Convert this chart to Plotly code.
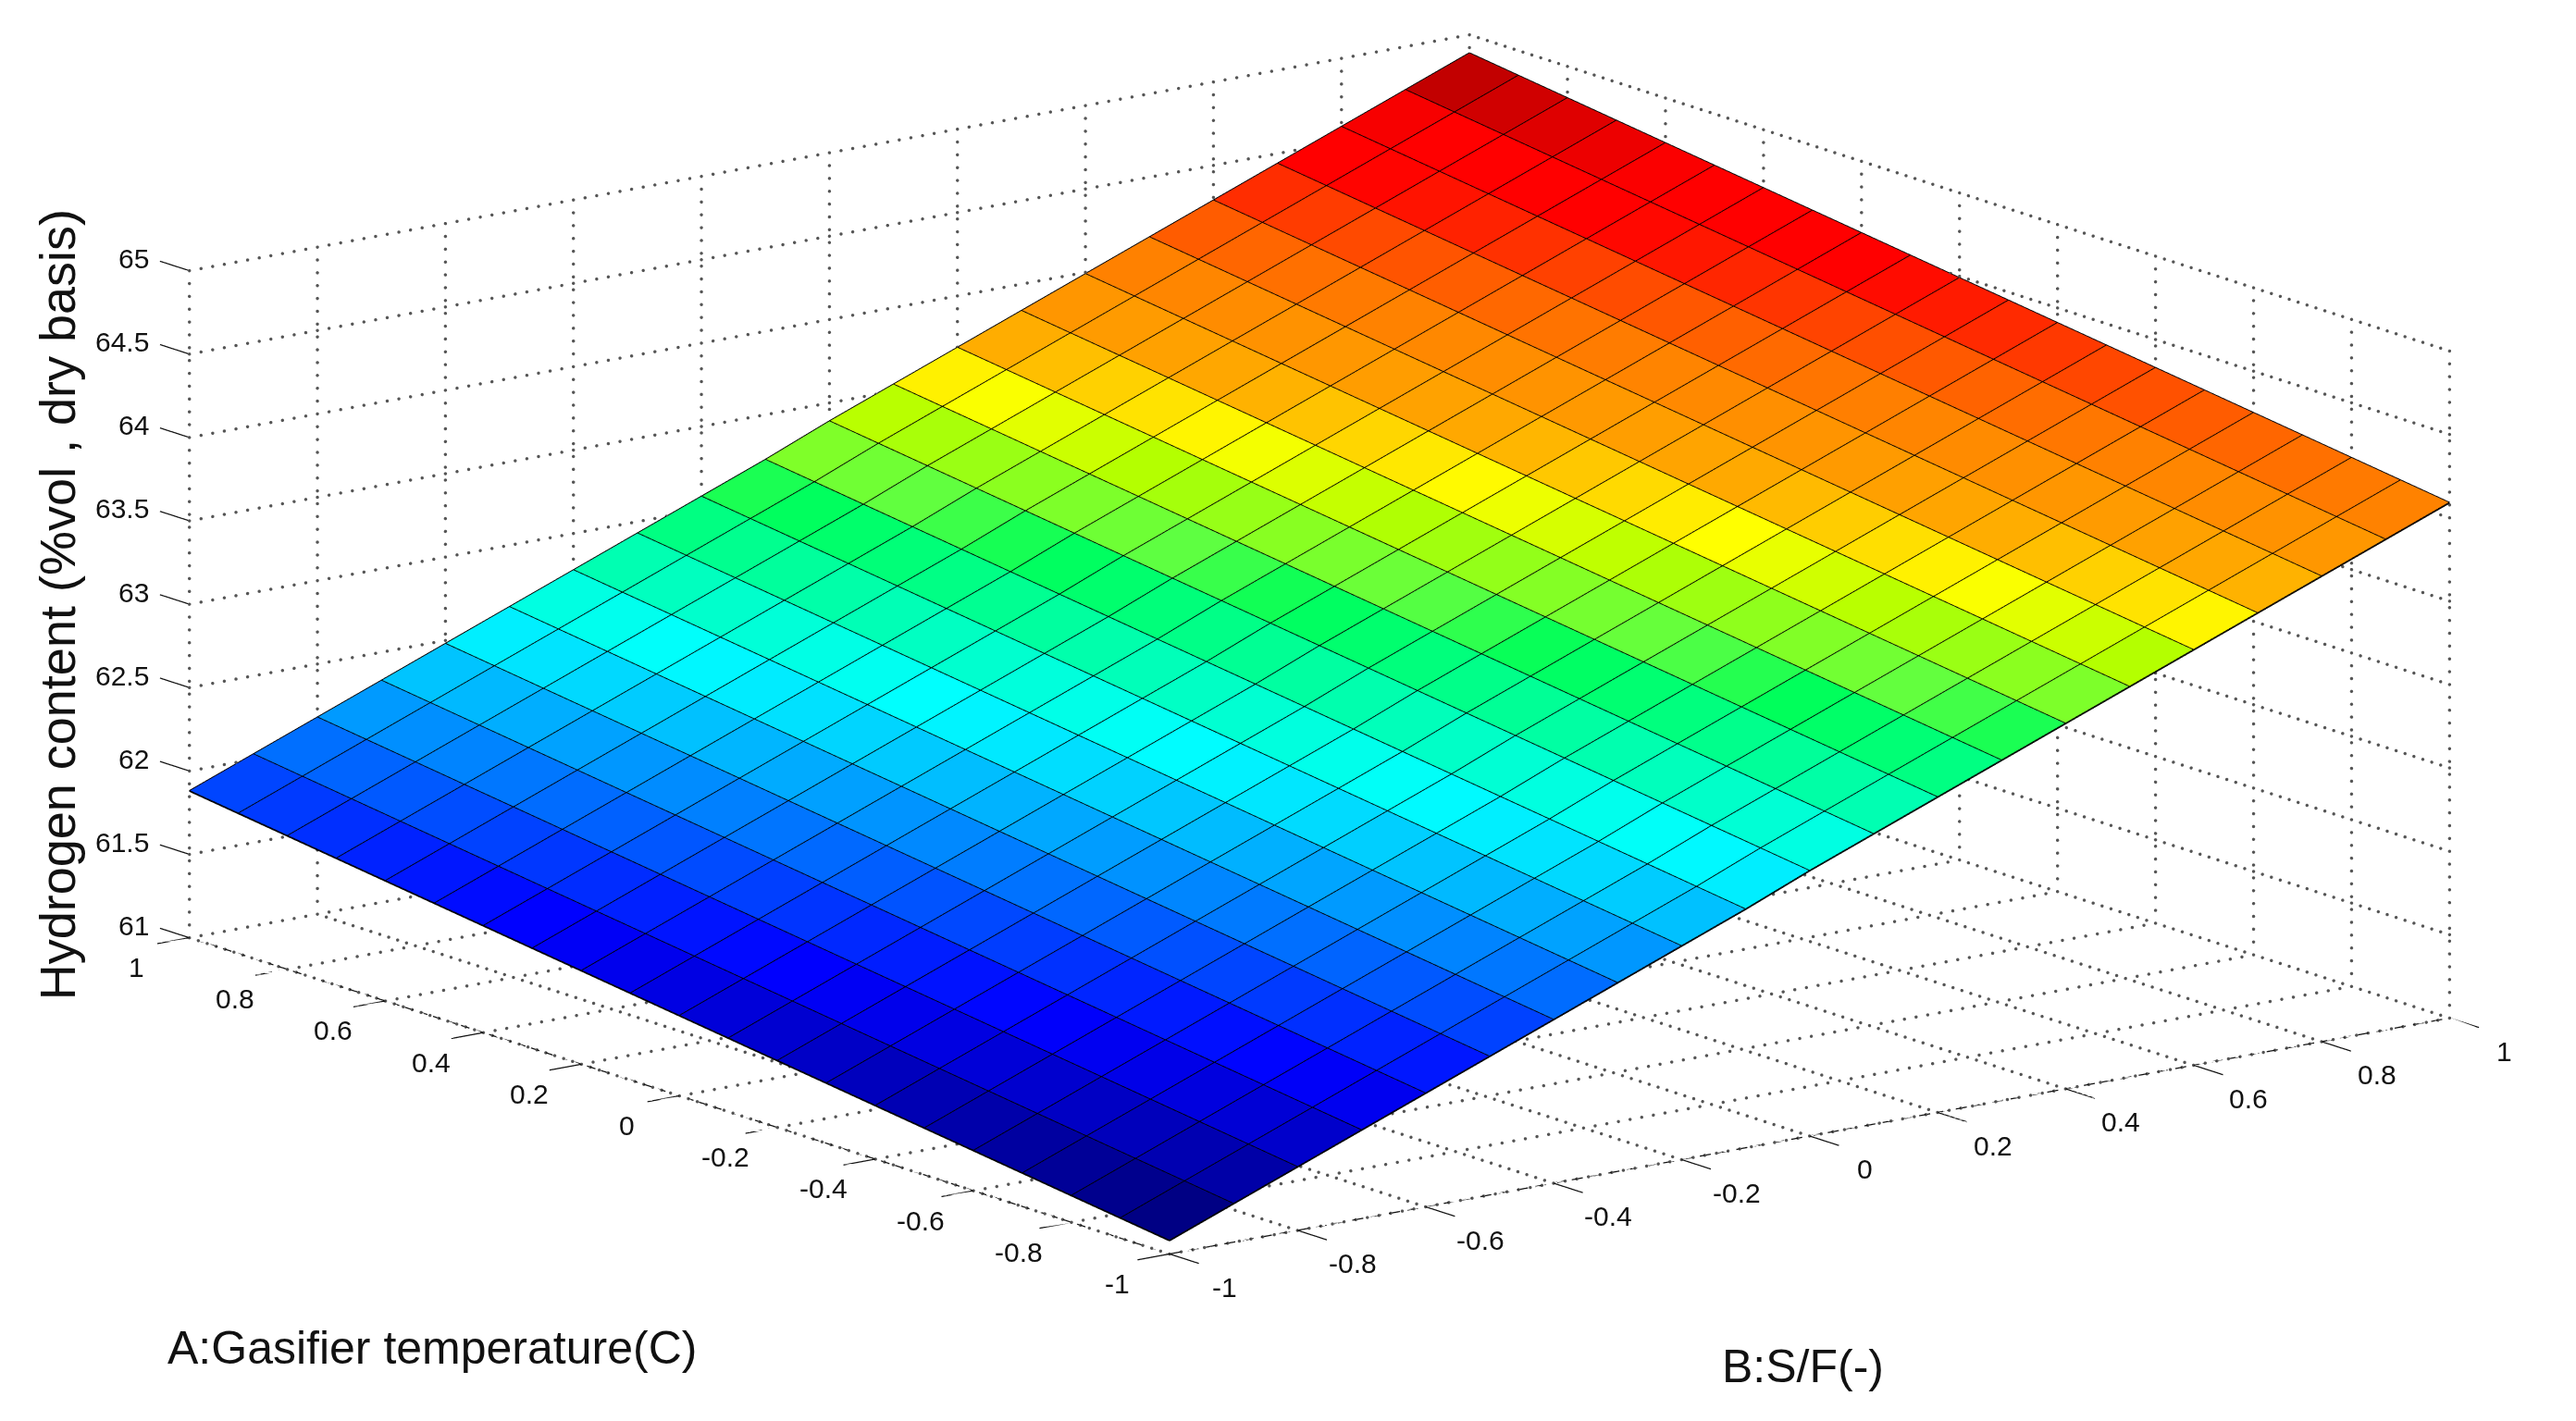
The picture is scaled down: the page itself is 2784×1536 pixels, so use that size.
import plotly.graph_objects as go

# MATLAB surf re-creation: A = gasifier temperature, B = S/F
a_values = [-1.0, -0.9, -0.8, -0.7, -0.6, -0.5, -0.4, -0.3, -0.2, -0.1, 0.0,
            0.1, 0.2, 0.3, 0.4, 0.5, 0.6, 0.7, 0.8, 0.9, 1.0]
b_values = [-1.0, -0.9, -0.8, -0.7, -0.6, -0.5, -0.4, -0.3, -0.2, -0.1, 0.0,
            0.1, 0.2, 0.3, 0.4, 0.5, 0.6, 0.7, 0.8, 0.9, 1.0]

# hydrogen content, one row per A value, one column per B value
hydrogen = [
    [61.08, 61.23, 61.38, 61.53, 61.68, 61.83, 61.98, 62.13, 62.28, 62.43, 62.59, 62.74, 62.89, 63.04, 63.19, 63.34, 63.49, 63.64, 63.79, 63.94, 64.09],
    [61.12, 61.27, 61.42, 61.57, 61.72, 61.87, 62.02, 62.17, 62.32, 62.47, 62.63, 62.78, 62.93, 63.08, 63.23, 63.38, 63.53, 63.68, 63.83, 63.98, 64.13],
    [61.16, 61.31, 61.46, 61.61, 61.76, 61.91, 62.06, 62.21, 62.36, 62.51, 62.67, 62.82, 62.97, 63.12, 63.27, 63.42, 63.57, 63.72, 63.87, 64.02, 64.17],
    [61.20, 61.35, 61.50, 61.65, 61.80, 61.95, 62.10, 62.25, 62.40, 62.55, 62.71, 62.86, 63.01, 63.16, 63.31, 63.46, 63.61, 63.76, 63.91, 64.06, 64.21],
    [61.24, 61.39, 61.54, 61.69, 61.84, 61.99, 62.14, 62.29, 62.44, 62.59, 62.75, 62.90, 63.05, 63.20, 63.35, 63.50, 63.65, 63.80, 63.95, 64.10, 64.25],
    [61.28, 61.43, 61.58, 61.73, 61.88, 62.03, 62.18, 62.33, 62.48, 62.63, 62.79, 62.94, 63.09, 63.24, 63.39, 63.54, 63.69, 63.84, 63.99, 64.14, 64.29],
    [61.32, 61.47, 61.62, 61.77, 61.92, 62.07, 62.22, 62.37, 62.52, 62.67, 62.83, 62.98, 63.13, 63.28, 63.43, 63.58, 63.73, 63.88, 64.03, 64.18, 64.33],
    [61.36, 61.51, 61.66, 61.81, 61.96, 62.11, 62.26, 62.41, 62.56, 62.71, 62.87, 63.02, 63.17, 63.32, 63.47, 63.62, 63.77, 63.92, 64.07, 64.22, 64.37],
    [61.40, 61.55, 61.70, 61.85, 62.00, 62.15, 62.30, 62.45, 62.60, 62.75, 62.91, 63.06, 63.21, 63.36, 63.51, 63.66, 63.81, 63.96, 64.11, 64.26, 64.41],
    [61.44, 61.59, 61.74, 61.89, 62.04, 62.19, 62.34, 62.49, 62.64, 62.79, 62.95, 63.10, 63.25, 63.40, 63.55, 63.70, 63.85, 64.00, 64.15, 64.30, 64.45],
    [61.48, 61.63, 61.78, 61.93, 62.08, 62.23, 62.38, 62.53, 62.68, 62.83, 62.99, 63.14, 63.29, 63.44, 63.59, 63.74, 63.89, 64.04, 64.19, 64.34, 64.49],
    [61.52, 61.67, 61.82, 61.97, 62.12, 62.27, 62.42, 62.57, 62.72, 62.87, 63.03, 63.18, 63.33, 63.48, 63.63, 63.78, 63.93, 64.08, 64.23, 64.38, 64.53],
    [61.56, 61.71, 61.86, 62.01, 62.16, 62.31, 62.46, 62.61, 62.76, 62.91, 63.07, 63.22, 63.37, 63.52, 63.67, 63.82, 63.97, 64.12, 64.27, 64.42, 64.57],
    [61.60, 61.75, 61.90, 62.05, 62.20, 62.35, 62.50, 62.65, 62.80, 62.95, 63.11, 63.26, 63.41, 63.56, 63.71, 63.86, 64.01, 64.16, 64.31, 64.46, 64.61],
    [61.64, 61.79, 61.94, 62.09, 62.24, 62.39, 62.54, 62.69, 62.84, 62.99, 63.15, 63.30, 63.45, 63.60, 63.75, 63.90, 64.05, 64.20, 64.35, 64.50, 64.65],
    [61.68, 61.83, 61.98, 62.13, 62.28, 62.43, 62.58, 62.73, 62.88, 63.03, 63.19, 63.34, 63.49, 63.64, 63.79, 63.94, 64.09, 64.24, 64.39, 64.54, 64.69],
    [61.72, 61.87, 62.02, 62.17, 62.32, 62.47, 62.62, 62.77, 62.92, 63.07, 63.23, 63.38, 63.53, 63.68, 63.83, 63.98, 64.13, 64.28, 64.43, 64.58, 64.73],
    [61.76, 61.91, 62.06, 62.21, 62.36, 62.51, 62.66, 62.81, 62.96, 63.11, 63.27, 63.42, 63.57, 63.72, 63.87, 64.02, 64.17, 64.32, 64.47, 64.62, 64.77],
    [61.80, 61.95, 62.10, 62.25, 62.40, 62.55, 62.70, 62.85, 63.00, 63.15, 63.31, 63.46, 63.61, 63.76, 63.91, 64.06, 64.21, 64.36, 64.51, 64.66, 64.81],
    [61.84, 61.99, 62.14, 62.29, 62.44, 62.59, 62.74, 62.89, 63.04, 63.19, 63.35, 63.50, 63.65, 63.80, 63.95, 64.10, 64.25, 64.40, 64.55, 64.70, 64.85],
    [61.88, 62.03, 62.18, 62.33, 62.48, 62.63, 62.78, 62.93, 63.08, 63.23, 63.39, 63.54, 63.69, 63.84, 63.99, 64.14, 64.29, 64.44, 64.59, 64.74, 64.89],
]

ab_ticks = [-1, -0.8, -0.6, -0.4, -0.2, 0, 0.2, 0.4, 0.6, 0.8, 1]
ab_labels = ["-1", "-0.8", "-0.6", "-0.4", "-0.2", "0", "0.2", "0.4", "0.6", "0.8", "1"]
z_ticks = [61, 61.5, 62, 62.5, 63, 63.5, 64, 64.5, 65]
z_labels = ["61", "61.5", "62", "62.5", "63", "63.5", "64", "64.5", "65"]

# jet as the picture shows it: saturated green in the middle, red runs long at the top
jet = [
    [0.0, "#000084"],
    [0.14, "#0000ff"],
    [0.39, "#00ffff"],
    [0.47, "#00ffa0"],
    [0.53, "#00ff5a"],
    [0.555, "#60ff40"],
    [0.62, "#b4ff00"],
    [0.655, "#ffff00"],
    [0.705, "#ffaa00"],
    [0.79, "#ff8000"],
    [0.85, "#ff4600"],
    [0.90, "#ff0000"],
    [0.945, "#ff0000"],
    [1.0, "#b80000"],
]

# flat coloured cells: two triangles per grid cell
n_a = len(a_values)
n_b = len(b_values)
xs, ys, zs = [], [], []
for r in range(n_a):
    for c in range(n_b):
        xs.append(b_values[c])
        ys.append(a_values[r])
        zs.append(hydrogen[r][c])

tri_i, tri_j, tri_k, cell_val = [], [], [], []
for r in range(n_a - 1):
    for c in range(n_b - 1):
        p = r * n_b + c
        mean = (hydrogen[r][c] + hydrogen[r][c + 1] + hydrogen[r + 1][c] + hydrogen[r + 1][c + 1]) / 4
        tri_i += [p, p]
        tri_j += [p + 1, p + n_b + 1]
        tri_k += [p + n_b + 1, p + n_b]
        cell_val += [mean, mean]

cells = go.Mesh3d(
    x=xs, y=ys, z=zs, i=tri_i, j=tri_j, k=tri_k,
    intensity=cell_val, intensitymode="cell",
    colorscale=jet, cmin=61.17, cmax=64.83, showscale=False,
    flatshading=True, hoverinfo="skip",
    lighting=dict(ambient=1, diffuse=0, specular=0, roughness=1, fresnel=0),
)

# black mesh lines on the surface
line_x, line_y, line_z = [], [], []
for r in range(n_a):
    line_x += b_values + [None]
    line_y += [a_values[r]] * n_b + [None]
    line_z += hydrogen[r] + [None]
for c in range(n_b):
    line_x += [b_values[c]] * n_a + [None]
    line_y += a_values + [None]
    line_z += [row[c] for row in hydrogen] + [None]

mesh_lines = go.Scatter3d(
    x=line_x, y=line_y, z=line_z, mode="lines",
    line=dict(color="black", width=3.5), hoverinfo="skip", showlegend=False,
)

# dotted grid on the floor and the two back walls (gl dash is too coarse, so dots)
gx, gy, gz = [], [], []


def dots(x0, y0, z0, x1, y1, z1, n):
    for s in range(n + 1):
        f = s / n
        gx.append(x0 + (x1 - x0) * f)
        gy.append(y0 + (y1 - y0) * f)
        gz.append(z0 + (z1 - z0) * f)


for t in ab_ticks:
    dots(t, -1, 61, t, 1, 61, 110)
    dots(-1, t, 61, 1, t, 61, 110)
    dots(t, 1, 61, t, 1, 65, 52)
    dots(1, t, 61, 1, t, 65, 52)
for t in z_ticks:
    dots(-1, 1, t, 1, 1, t, 110)
    dots(1, -1, t, 1, 1, t, 110)

grid_dots = go.Scatter3d(
    x=gx, y=gy, z=gz, mode="markers",
    marker=dict(color="#555555", size=2, line=dict(width=0)), hoverinfo="skip", showlegend=False,
)

# dashed front axes and the short tick marks; the axis ranges leave room for the ticks
ax_x, ax_y, ax_z = [], [], []


def seg(x0, y0, z0, x1, y1, z1):
    ax_x.extend([x0, x1, None])
    ax_y.extend([y0, y1, None])
    ax_z.extend([z0, z1, None])


dash_count = 70
for s in range(dash_count):
    f0 = -1 + 2 * s / dash_count
    f1 = f0 + 1.2 / dash_count
    seg(f0, -1, 61, f1, -1, 61)
    seg(-1, f0, 61, -1, f1, 61)
for t in ab_ticks:
    seg(t, -1, 61, t, -1.06, 61)
    seg(-1, t, 61, -1.05, t, 61)
for t in z_ticks:
    seg(-1, 1, t, -1, 1.06, t)

axis_lines = go.Scatter3d(
    x=ax_x, y=ax_y, z=ax_z, mode="lines",
    line=dict(color="#111111", width=2.5), hoverinfo="skip", showlegend=False,
)

fig = go.Figure([grid_dots, cells, mesh_lines, axis_lines])

tick_font = dict(family="Liberation Sans", size=30, color="#111111")
tick_notes = []
for t, lab in zip(ab_ticks, ab_labels):
    # A labels sit left of the B=-1 edge, B labels right of the A=-1 edge
    tick_notes.append(dict(x=-1, y=t, z=61, text=lab, showarrow=False, font=tick_font,
                           xanchor="center", yanchor="middle", xshift=-57, yshift=-32))
    tick_notes.append(dict(x=t, y=-1, z=61, text=lab, showarrow=False, font=tick_font,
                           xanchor="center", yanchor="middle", xshift=59, yshift=-36))
for t, lab in zip(z_ticks, z_labels):
    tick_notes.append(dict(x=-1, y=1, z=t, text=lab, showarrow=False, font=tick_font,
                           xanchor="right", yanchor="middle", xshift=-42, yshift=13))


def axis(rng):
    return dict(
        range=rng, title=dict(text=""), showgrid=False, zeroline=False, showbackground=False,
        showspikes=False, showline=False, ticks="", showticklabels=False,
    )


fig.update_layout(
    width=2784,
    height=1536,
    margin=dict(l=0, r=0, t=0, b=0),
    paper_bgcolor="white",
    showlegend=False,
    scene=dict(
        domain=dict(x=[0.022, 0.997], y=[0.1048, 0.9988]),
        xaxis=axis([-1.1, 1.1]),
        yaxis=axis([-1.1, 1.1]),
        zaxis=axis([61, 65]),
        aspectmode="manual",
        aspectratio=dict(x=2.7786, y=2.8149, z=1.083),
        camera=dict(
            eye=dict(x=-1.17, y=-1.548, z=0.488),
            up=dict(x=0, y=0, z=1),
            center=dict(x=0, y=0, z=0),
            projection=dict(type="orthographic"),
        ),
        annotations=tick_notes,
    ),
    annotations=[
        dict(text="A:Gasifier temperature(C)", xref="paper", yref="paper", x=0.1648, y=0.0566,
             xanchor="center", yanchor="middle",
             showarrow=False, font=dict(family="Liberation Sans", size=50, color="#111111")),
        dict(text="B:S/F(-)", xref="paper", yref="paper", x=0.697, y=0.0439,
             xanchor="center", yanchor="middle",
             showarrow=False, font=dict(family="Liberation Sans", size=50, color="#111111")),
        dict(text="Hydrogen content (%vol , dry basis)", xref="paper", yref="paper", x=0.0192, y=0.5795,
             xanchor="center", yanchor="middle",
             textangle=-90, showarrow=False, font=dict(family="Liberation Sans", size=54, color="#111111")),
    ],
)

fig.write_html("out.html")
